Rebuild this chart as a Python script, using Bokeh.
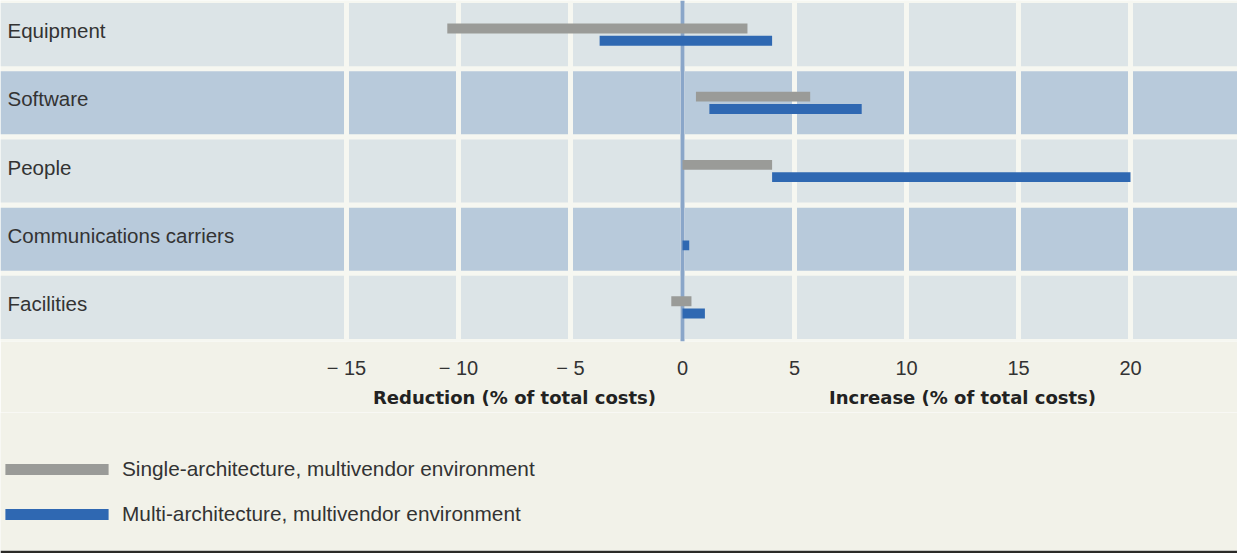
from bokeh.plotting import figure
from bokeh.layouts import column
from bokeh.models import (Range1d, FixedTicker, Grid, Legend, LegendItem,
                          ColumnDataSource, LinearAxis)
from bokeh.core.properties import value
from bokeh.embed import file_html
from bokeh.resources import INLINE

# ---------------- data ----------------
categories = ["Equipment", "Software", "People", "Communications carriers", "Facilities"]
single_start = [-10.5, 0.6, 0.0, 0.0, -0.5]
single_end = [2.9, 5.7, 4.0, 0.0, 0.4]
multi_start = [-3.7, 1.2, 4.0, 0.0, 0.0]
multi_end = [4.0, 8.0, 20.0, 0.3, 1.0]
tick_values = [-15, -10, -5, 0, 5, 10, 15, 20]
tick_labels = ["\u2212 15", "\u2212 10", "\u2212 5", "0", "5", "10", "15", "20"]
series_names = ["Single-architecture, multivendor environment",
                "Multi-architecture, multivendor environment"]
axis_titles = ["Reduction (% of total costs)", "Increase (% of total costs)"]
axis_title_centers = [-7.5, 12.5]

# ---------------- style ----------------
FONT = "Liberation Sans"
TITLE_FONT = "DejaVu Sans"
GRAY = "#9a9b98"
BLUE = "#2f68b2"
LIGHT_BAND = "#dce4e7"
DARK_BAND = "#b8cadb"
GAP = "#f6f7f1"
PAPER = "#f2f2e9"
TEXT = "#333333"

W, H = 1237, 553
H_TOP = 412
PX_PER_UNIT = 22.4
ZERO_PX = 682
x_start = -ZERO_PX / PX_PER_UNIT
x_end = (W - ZERO_PX) / PX_PER_UNIT
n = len(categories)
idx = list(range(n))

p = figure(width=W, height=H_TOP, output_backend="svg", toolbar_location=None,
           x_range=Range1d(x_start, x_end), y_range=Range1d(n - 0.5, -0.5),
           y_axis_location=None, min_border_left=0, min_border_right=0,
           min_border_top=0, min_border_bottom=71)
p.background_fill_color = GAP
p.border_fill_color = PAPER
p.outline_line_color = None

# alternating bands behind everything
band_src = ColumnDataSource(dict(y=idx,
                                 color=[LIGHT_BAND if i % 2 == 0 else DARK_BAND for i in idx]))
p.hbar(y="y", left=x_start, right=x_end, height=0.925, fill_color="color",
       line_color=None, source=band_src, level="image")

# white vertical grid lines
p.ygrid.visible = False
p.xgrid.ticker = FixedTicker(ticks=tick_values)
p.xgrid.grid_line_color = GAP
p.xgrid.grid_line_width = 5

# zero line
zero_grid = Grid(dimension=0, ticker=FixedTicker(ticks=[0]),
                 grid_line_color="#8aa6c9", grid_line_width=4)
p.add_layout(zero_grid)

# x axis with tick labels
ax = p.xaxis[0]
ax.ticker = FixedTicker(ticks=tick_values)
ax.major_label_overrides = {v: l for v, l in zip(tick_values, tick_labels)}
ax.major_tick_in = 0
ax.major_tick_out = 0
ax.minor_tick_line_color = None
ax.axis_line_color = None
ax.major_label_standoff = 15
ax.major_label_text_font = FONT
ax.major_label_text_font_size = "20px"
ax.major_label_text_color = TEXT

# second axis carrying the two titles
ax2 = LinearAxis(ticker=FixedTicker(ticks=axis_title_centers),
                 major_label_overrides={v: t for v, t in zip(axis_title_centers, axis_titles)},
                 major_tick_in=0, major_tick_out=0, minor_tick_line_color=None,
                 axis_line_color=None, major_label_standoff=5,
                 major_label_text_font=TITLE_FONT, major_label_text_font_size="18px",
                 major_label_text_font_style="bold", major_label_text_color="#222222")
p.add_layout(ax2, "below")

# bars
dodge = 0.09
bar_h = 0.145
src = ColumnDataSource(dict(
    y_single=[i - dodge for i in idx], y_multi=[i + dodge for i in idx],
    s0=single_start, s1=single_end, m0=multi_start, m1=multi_end))
p.hbar(y="y_single", left="s0", right="s1", height=bar_h,
       fill_color=GRAY, line_color=None, source=src)
p.hbar(y="y_multi", left="m0", right="m1", height=bar_h,
       fill_color=BLUE, line_color=None, source=src)

# category labels
lab_src = ColumnDataSource(dict(y=idx, text=categories))
p.text(x=x_start + 7 / PX_PER_UNIT, y="y", text="text", source=lab_src,
       text_font=value(FONT), text_font_size="20.5px", text_color=TEXT,
       text_baseline="middle", text_align="left", y_offset=-4)

# ---------------- legend strip ----------------
q = figure(width=W, height=H - H_TOP, output_backend="svg", toolbar_location=None,
           x_range=Range1d(0, 1), y_range=Range1d(0, 1),
           x_axis_location=None, y_axis_location=None,
           min_border_left=0, min_border_right=0, min_border_top=0, min_border_bottom=3)
q.background_fill_color = PAPER
q.border_fill_color = "#2b2a27"
q.outline_line_color = None
q.xgrid.visible = False
q.ygrid.visible = False
# legend swatches only (a single undrawn row)
nan = float("nan")
swatch_src = ColumnDataSource(dict(y=[nan], left=[nan], right=[nan]))
sw_single = q.hbar(y="y", left="left", right="right", height=1, fill_color=GRAY,
                   line_color=None, source=swatch_src)
sw_multi = q.hbar(y="y", left="left", right="right", height=1, fill_color=BLUE,
                  line_color=None, source=swatch_src)
legend = Legend(items=[LegendItem(label=series_names[0], renderers=[sw_single]),
                       LegendItem(label=series_names[1], renderers=[sw_multi])],
                location=(-8, 24), orientation="vertical",
                glyph_width=129, glyph_height=14, label_standoff=1,
                padding=0, margin=0, spacing=21,
                background_fill_alpha=0, border_line_color=None,
                label_text_font=FONT, label_text_font_size="20.8px",
                label_text_color=TEXT)
q.add_layout(legend)

layout = column(p, q, spacing=0)
open("out.html", "w").write(file_html(layout, INLINE))
